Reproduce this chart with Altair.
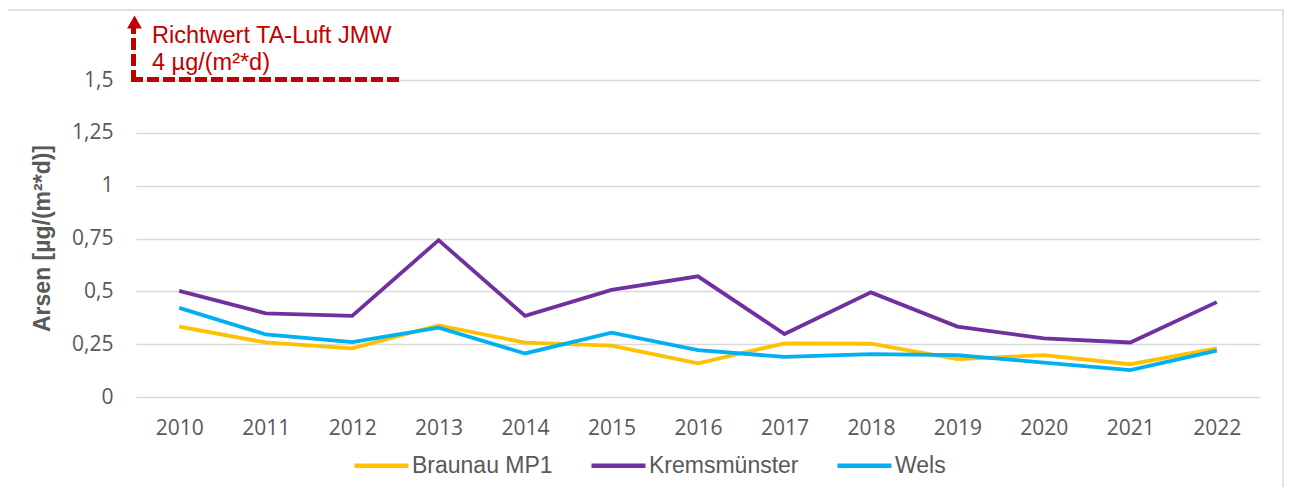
import altair as alt
import pandas as pd

years = [str(y) for y in range(2010, 2023)]
braunau = [0.333, 0.258, 0.230, 0.339, 0.257, 0.243, 0.159, 0.254, 0.252, 0.179, 0.198, 0.155, 0.230]
krems = [0.502, 0.396, 0.384, 0.742, 0.384, 0.507, 0.571, 0.298, 0.495, 0.333, 0.277, 0.258, 0.449]
wels = [0.422, 0.296, 0.260, 0.328, 0.206, 0.304, 0.222, 0.190, 0.203, 0.198, 0.163, 0.127, 0.219]
series_names = ["Braunau MP1", "Kremsmünster", "Wels"]
series_colors = ["#FFC000", "#7030A0", "#00B0F0"]
y_ticks = [0, 0.25, 0.5, 0.75, 1, 1.25, 1.5]
annot_lines = ["Richtwert TA-Luft JMW", "4 µg/(m²*d)"]

rows = []
for name, vals in zip(series_names, [braunau, krems, wels]):
    for y, v in zip(years, vals):
        rows.append({"Jahr": y, "Wert": v, "Messstelle": name})
df = pd.DataFrame(rows)

GRAY = "#595959"
RED = "#C00000"
W, H = 1124, 317

lines = alt.Chart(df).mark_line(strokeWidth=3.8).encode(
    x=alt.X("Jahr:O", sort=years, title=None,
            scale=alt.Scale(type="point", padding=0.5),
            axis=alt.Axis(labelAngle=0, ticks=False, domain=False, grid=False,
                          labelPadding=20, labelFontSize=21, labelColor=GRAY,
                          labelFont="Open Sans")),
    y=alt.Y("Wert:Q", title="Arsen [µg/(m²*d)]",
            scale=alt.Scale(domain=[0, 1.5], nice=False),
            axis=alt.Axis(values=y_ticks, ticks=False, domain=False, grid=True,
                          gridColor="#D9D9D9", gridWidth=1.6,
                          labelPadding=23, labelFontSize=21, labelColor=GRAY,
                          labelFont="Open Sans",
                          labelExpr="replace(toString(datum.value), '.', ',')",
                          titleFont="Liberation Sans", titleFontSize=23, titleFontWeight="bold",
                          titleColor=GRAY, titleX=-87, titleY=158, titleAnchor="middle",
                          titleBaseline="alphabetic", titleAngle=-90)),
    color=alt.Color("Messstelle:N",
                    scale=alt.Scale(domain=series_names, range=series_colors),
                    legend=alt.Legend(title=None, orient="none", direction="horizontal",
                                      legendX=216, legendY=356, symbolType="stroke",
                                      symbolStrokeWidth=4.5, symbolSize=2916,
                                      labelFontSize=23, labelColor=GRAY,
                                      labelFont="Liberation Sans", labelOffset=1,
                                      columnPadding=29)),
)

one = pd.DataFrame({"a": [0]})
dash = [12, 4]
hline = alt.Chart(one).mark_rule(color=RED, strokeWidth=5, strokeDash=dash).encode(
    x=alt.value(-5), x2=alt.value(263), y=alt.value(-0.5))
vline = alt.Chart(one).mark_rule(color=RED, strokeWidth=5, strokeDash=dash).encode(
    x=alt.value(-2.5), y=alt.value(2), y2=alt.value(-52))
arrow = alt.Chart(one).mark_point(shape="triangle-up", filled=True, color=RED,
                                  size=220, opacity=1).encode(
    x=alt.value(-1.5), y=alt.value(-58))
txt1 = alt.Chart(one).mark_text(text=annot_lines[0], color=RED, fontSize=23.5,
                                font="Liberation Sans", align="left", baseline="alphabetic").encode(
    x=alt.value(16), y=alt.value(-37))
txt2 = alt.Chart(one).mark_text(text=annot_lines[1], color=RED, fontSize=23.5,
                                font="Liberation Sans", align="left", baseline="alphabetic").encode(
    x=alt.value(16), y=alt.value(-10))
border = alt.Chart(one).mark_rect(fill=None, stroke="#D9D9D9", strokeWidth=1.5).encode(
    x=alt.value(-130), x2=alt.value(1147), y=alt.value(-70), y2=alt.value(412))

chart = alt.layer(border, lines, hline, vline, arrow, txt1, txt2).properties(
    width=W, height=H,
    autosize=alt.AutoSizeParams(type="none"),
    padding={"left": 128, "top": 72, "right": 24, "bottom": 90},
).configure_view(stroke=None)

chart.save("out.html", embed_options={"renderer": "svg", "actions": False})
